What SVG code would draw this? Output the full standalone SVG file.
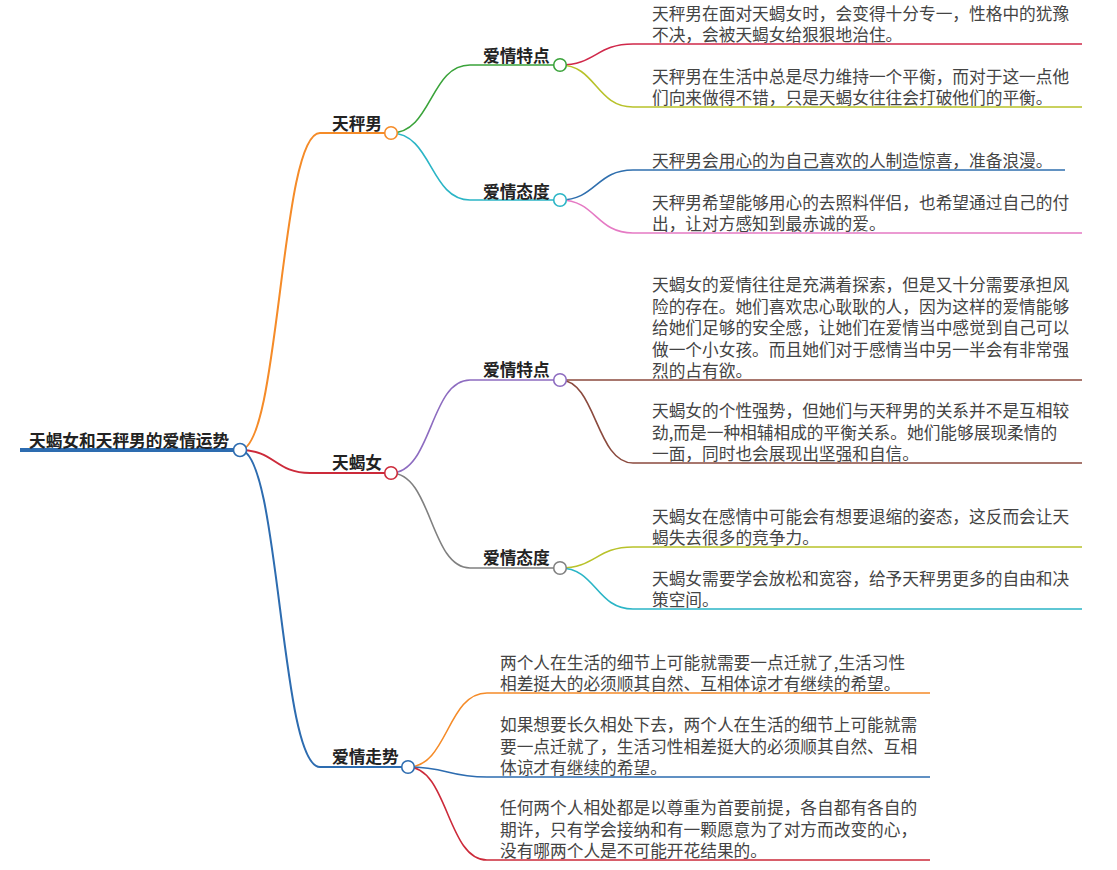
<svg xmlns="http://www.w3.org/2000/svg" width="1117" height="870" viewBox="0 0 1117 870">
<style>
text{font-family:"Noto Sans CJK SC","Noto Sans",sans-serif;font-size:16.7px}
.lbl{font-weight:700;fill:#222}
.leaf{fill:#444}
.c{fill:none;stroke-width:1.6}
.c2{fill:none;stroke-width:2}
.dot{fill:#fff;stroke-width:1.6}
</style>
<rect width="1117" height="870" fill="#fff"/>
<g id="connectors">
<path class="c2" stroke="#f58b28" d="M240,450 C280,450 280,133 320,133 H385"/>
<path class="c2" stroke="#cc2a3a" d="M240,450 C275,450 275,473 310,473 H385"/>
<path class="c2" stroke="#2d6cb0" d="M240,450 C280,450 280,767 320,767 H402"/>
<path class="c" stroke="#3aa33a" d="M391,133 C432,133 430,65 470,65 H554"/>
<path class="c" stroke="#2bb5c6" d="M391,133 C432,133 430,200 470,200 H554"/>
<path class="c" stroke="#8d6cc0" d="M391,473 C432,473 430,380 470,380 H554"/>
<path class="c" stroke="#808080" d="M391,473 C432,473 430,568 470,568 H554"/>
<path class="c" stroke="#d0284a" d="M560,65 C596,65 596,44 633,44 H1082"/>
<path class="c" stroke="#b8c22a" d="M560,65 C596,65 596,107 633,107 H1082"/>
<path class="c" stroke="#2f6fae" d="M560,200 C596,200 596,170 633,170 H1065"/>
<path class="c" stroke="#e57ac4" d="M560,200 C596,200 596,233 633,233 H1082"/>
<path class="c" stroke="#8b4a3e" d="M560,380 H1082"/>
<path class="c" stroke="#8b4a3e" d="M560,380 C596,380 596,463 633,463 H1082"/>
<path class="c" stroke="#b8c22a" d="M560,568 C596,568 596,547 633,547 H1082"/>
<path class="c" stroke="#2bb5c6" d="M560,568 C596,568 596,609 633,609 H1082"/>
<path class="c" stroke="#f58b28" d="M408,767 C448,767 447,693 487,693 H930"/>
<path class="c" stroke="#2d6cb0" d="M408,767 C448,767 447,777 487,777 H930"/>
<path class="c" stroke="#cc2a3a" d="M408,767 C448,767 447,860 487,860 H930"/>
</g>
<g id="root">
<line x1="20" y1="450" x2="234" y2="450" stroke="#2d6cb0" stroke-width="4"/>
<text class="lbl" x="29" y="447">天蝎女和天秤男的爱情运势</text>
<circle class="dot" cx="240" cy="450" r="6.5" stroke="#2d6cb0"/>
</g>
<g id="n-tianchengnan">
<text class="lbl" x="332" y="130">天秤男</text>
<circle class="dot" cx="391" cy="133" r="6.3" stroke="#f58b28"/>
</g>
<g id="n-a-tedian">
<text class="lbl" x="483" y="62">爱情特点</text>
<circle class="dot" cx="560" cy="65" r="6.3" stroke="#3aa33a"/>
</g>
<g id="n-a-taidu">
<text class="lbl" x="483" y="198">爱情态度</text>
<circle class="dot" cx="560" cy="200" r="6.3" stroke="#2bb5c6"/>
</g>
<g id="n-tianxienv">
<text class="lbl" x="332" y="469">天蝎女</text>
<circle class="dot" cx="391" cy="473" r="6.3" stroke="#cc2a3a"/>
</g>
<g id="n-b-tedian">
<text class="lbl" x="483" y="376">爱情特点</text>
<circle class="dot" cx="560" cy="380" r="6.3" stroke="#8d6cc0"/>
</g>
<g id="n-b-taidu">
<text class="lbl" x="483" y="564">爱情态度</text>
<circle class="dot" cx="560" cy="568" r="6.3" stroke="#808080"/>
</g>
<g id="n-zoushi">
<text class="lbl" x="332" y="763">爱情走势</text>
<circle class="dot" cx="408" cy="767" r="6.3" stroke="#2d6cb0"/>
</g>
<g id="leaf-a1"><text class="leaf" x="652" y="19.5">天秤男在面对天蝎女时，会变得十分专一，性格中的犹豫</text><text class="leaf" x="652" y="41">不决，会被天蝎女给狠狠地治住。</text></g>
<g id="leaf-a2"><text class="leaf" x="652" y="82.5">天秤男在生活中总是尽力维持一个平衡，而对于这一点他</text><text class="leaf" x="652" y="104">们向来做得不错，只是天蝎女往往会打破他们的平衡。</text></g>
<g id="leaf-a3"><text class="leaf" x="652" y="167">天秤男会用心的为自己喜欢的人制造惊喜，准备浪漫。</text></g>
<g id="leaf-a4"><text class="leaf" x="652" y="208.5">天秤男希望能够用心的去照料伴侣，也希望通过自己的付</text><text class="leaf" x="652" y="230">出，让对方感知到最赤诚的爱。</text></g>
<g id="leaf-b1"><text class="leaf" x="652" y="291">天蝎女的爱情往往是充满着探索，但是又十分需要承担风</text><text class="leaf" x="652" y="312.5">险的存在。她们喜欢忠心耿耿的人，因为这样的爱情能够</text><text class="leaf" x="652" y="334">给她们足够的安全感，让她们在爱情当中感觉到自己可以</text><text class="leaf" x="652" y="355.5">做一个小女孩。而且她们对于感情当中另一半会有非常强</text><text class="leaf" x="652" y="377">烈的占有欲。</text></g>
<g id="leaf-b2"><text class="leaf" x="652" y="417">天蝎女的个性强势，但她们与天秤男的关系并不是互相较</text><text class="leaf" x="652" y="438.5">劲,而是一种相辅相成的平衡关系。她们能够展现柔情的</text><text class="leaf" x="652" y="460">一面，同时也会展现出坚强和自信。</text></g>
<g id="leaf-b3"><text class="leaf" x="652" y="522.5">天蝎女在感情中可能会有想要退缩的姿态，这反而会让天</text><text class="leaf" x="652" y="544">蝎失去很多的竞争力。</text></g>
<g id="leaf-b4"><text class="leaf" x="652" y="584.5">天蝎女需要学会放松和宽容，给予天秤男更多的自由和决</text><text class="leaf" x="652" y="606">策空间。</text></g>
<g id="leaf-c1"><text class="leaf" x="500" y="668.5">两个人在生活的细节上可能就需要一点迁就了,生活习性</text><text class="leaf" x="500" y="690">相差挺大的必须顺其自然、互相体谅才有继续的希望。</text></g>
<g id="leaf-c2"><text class="leaf" x="500" y="731">如果想要长久相处下去，两个人在生活的细节上可能就需</text><text class="leaf" x="500" y="752.5">要一点迁就了，生活习性相差挺大的必须顺其自然、互相</text><text class="leaf" x="500" y="774">体谅才有继续的希望。</text></g>
<g id="leaf-c3"><text class="leaf" x="500" y="814">任何两个人相处都是以尊重为首要前提，各自都有各自的</text><text class="leaf" x="500" y="835.5">期许，只有学会接纳和有一颗愿意为了对方而改变的心，</text><text class="leaf" x="500" y="857">没有哪两个人是不可能开花结果的。</text></g>
</svg>
